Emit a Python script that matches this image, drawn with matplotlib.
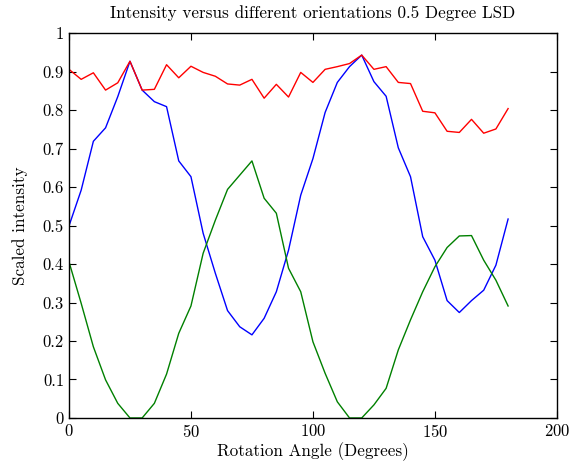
import matplotlib
matplotlib.use("Agg")
import matplotlib.pyplot as plt
from matplotlib.ticker import FuncFormatter

plt.rcParams['font.family'] = 'cmr10'
plt.rcParams['axes.formatter.use_mathtext'] = True

angles = list(range(0, 181, 5))

red = [0.906, 0.880, 0.897, 0.852, 0.871, 0.927, 0.852, 0.854, 0.918, 0.884,
       0.914, 0.898, 0.888, 0.868, 0.865, 0.880, 0.831, 0.867, 0.834, 0.898,
       0.872, 0.906, 0.913, 0.921, 0.943, 0.906, 0.913, 0.872, 0.869, 0.797,
       0.793, 0.745, 0.742, 0.776, 0.740, 0.751, 0.804]

blue = [0.499, 0.592, 0.719, 0.754, 0.835, 0.927, 0.852, 0.822, 0.809, 0.668,
        0.627, 0.480, 0.376, 0.279, 0.237, 0.216, 0.259, 0.328, 0.436, 0.579,
        0.674, 0.794, 0.872, 0.913, 0.943, 0.874, 0.836, 0.702, 0.627, 0.471,
        0.410, 0.305, 0.274, 0.305, 0.332, 0.397, 0.517]

green = [0.406, 0.298, 0.185, 0.099, 0.038, 0.0, 0.0, 0.038, 0.114, 0.220,
         0.291, 0.428, 0.514, 0.594, 0.631, 0.668, 0.571, 0.532, 0.389, 0.328,
         0.198, 0.116, 0.042, 0.0, 0.0, 0.034, 0.077, 0.177, 0.255, 0.328,
         0.393, 0.443, 0.473, 0.474, 0.410, 0.358, 0.291]

fig = plt.figure(figsize=(5.7, 4.67), dpi=100)
ax = fig.add_axes([0.121, 0.105, 0.856, 0.824])

ax.plot(angles, blue, color=(0, 0, 1), lw=1)
ax.plot(angles, green, color=(0, 0.5, 0), lw=1)
ax.plot(angles, red, color=(1, 0, 0), lw=1)

ax.set_xlim(0, 200)
ax.set_ylim(0, 1)
ax.set_xticks([0, 50, 100, 150, 200])
ax.set_yticks([i / 10 for i in range(11)])
ax.yaxis.set_major_formatter(FuncFormatter(lambda v, p: '%g' % v))
ax.tick_params(direction='in', top=True, right=True, labelsize=12, length=5)
for s in ax.spines.values():
    s.set_linewidth(1)

ax.set_xlabel('Rotation Angle (Degrees)', fontsize=12.3, labelpad=2)
ax.set_ylabel('Scaled intensity', fontsize=12.3, labelpad=10.5)
ax.set_title('Intensity versus different orientations 0.5 Degree LSD', fontsize=12.3, pad=11)

fig.savefig('out.png', dpi=100)
